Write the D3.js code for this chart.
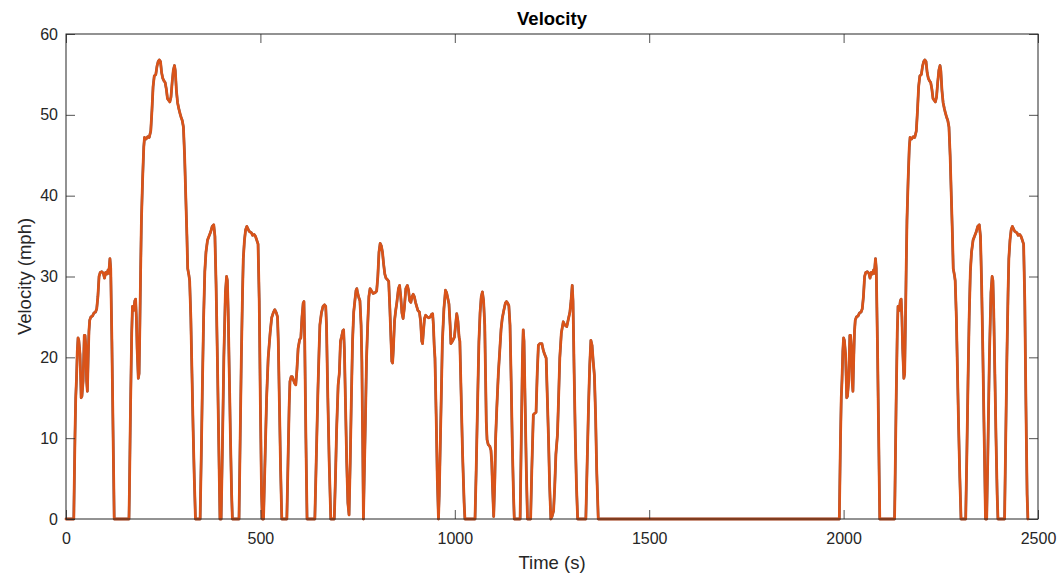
<!DOCTYPE html>
<html>
<head>
<meta charset="utf-8">
<title>Velocity</title>
<script src="https://cdn.jsdelivr.net/npm/d3@7"></script>
<style>
  html, body { margin: 0; padding: 0; background: #ffffff; }
  svg { display: block; font-family: "Liberation Sans", Arial, Helvetica, sans-serif; }
</style>
</head>
<body>
<svg id="chart" width="1064" height="575"></svg>
<script>
// FTP-75 drive schedule: cold-start phase (0-505 s)
const coldStartTime = [0,20,23,25,27,29,31,33,36,38,39,41,44,47,49,51,53,55,57,59,61,64,68,72,76,79,82,85,88,92,96,99,102,105,108,110,113,115,118,121,124,162,163,166,169,171,174,177,179,181,183,186,188,190,192,194,197,200,202,206,210,214,218,221,224,227,231,234,237,240,243,246,249,252,255,258,261,264,267,270,273,276,279,281,284,287,290,293,296,299,302,305,308,311,313,316,318,321,324,327,330,333,345,348,351,354,357,360,364,368,372,376,380,383,386,389,392,396,399,402,406,410,413,415,417,420,423,426,428,445,448,451,454,456,459,462,465,468,471,474,477,480,484,487,490,494,497,500,503,505];
const coldStartSpeed = [0,0,10,15,17.3,20.7,22.4,22.1,20.4,17,15,15.2,17.1,22.7,22.7,21.3,17.1,15.8,19.8,23.2,24.6,25,25.1,25.5,25.6,26,27.5,30,30.5,30.6,30.4,29.8,30.5,30.3,30.8,30.4,32.2,31,22,11,0,0,3,14,23,26.3,25.8,27,27.2,25,21,17.4,18,24,31,37,42,46,47.2,47,47.3,47.2,48,50.5,53.5,54.8,55,56,56.6,56.8,56.6,55.2,54.5,54.2,54,53.2,52,51.8,51.6,52.2,54,55.5,56.1,55.5,53,51.5,50.8,50.2,49.7,49.3,48.5,45,40,35,31,30.2,29.5,25,18,11,5,0,0,8,17,25,30.6,33,34.5,35,35.5,36.2,36.4,35,29,21,12,0,0,8,20,28,30,29.5,26,18,10,3,0,0,10,20,28,32.2,34.5,35.8,36.2,35.9,35.6,35.5,35.4,35.1,35.2,35,34.6,34,27,14,3,0];

// Stabilized phase (505-1369 s)
const stabilizedTime = [508,512,516,520,525,529,533,537,541,544,546,549,552,555,568,571,574,576,579,582,585,588,591,594,597,601,604,607,610,612,614,617,620,640,644,648,651,653,657,661,665,668,670,673,677,681,690,693,696,700,703,706,709,712,714,716,719,722,725,728,731,734,737,740,743,746,748,750,753,756,759,761,763,765,767,770,773,776,779,782,786,790,795,799,802,805,808,811,814,817,820,823,827,830,833,836,838,840,842,845,848,851,855,858,861,864,867,870,874,878,881,884,887,890,893,896,899,902,905,909,912,915,917,919,922,925,929,933,937,940,943,945,947,949,952,955,958,960,963,966,968,972,976,979,982,985,988,990,994,999,1002,1005,1008,1011,1013,1016,1020,1024,1026,1052,1055,1058,1062,1065,1068,1071,1074,1077,1079,1081,1083,1086,1090,1093,1095,1097,1100,1103,1105,1108,1112,1116,1119,1122,1126,1130,1133,1136,1139,1142,1145,1148,1151,1153,1168,1171,1174,1176,1178,1181,1184,1187,1195,1198,1202,1206,1209,1212,1215,1219,1224,1227,1230,1235,1238,1241,1244,1247,1250,1254,1257,1260,1264,1267,1270,1274,1279,1283,1288,1292,1296,1299,1302,1304,1307,1310,1313,1316,1337,1340,1344,1347,1350,1353,1356,1359,1362,1365,1369];
const stabilizedSpeed = [0,7.5,15,19.9,23,24.9,25.5,25.9,25.5,25,22,14,6,0,0,7,14,17,17.6,17.6,17.2,16.8,16.6,18.5,21.1,22.2,22.4,25,26.7,26.9,22,10,0,0,8,16,21,24,25.5,26.3,26.5,26.3,24,16,7,0,0,5,11,16.6,18,22,22.6,23.3,23.4,21,14,7,2,0.5,7,15,22,25.6,27,28.3,28.5,28,27.4,27,24,19.5,10,0,5,12,19.9,24,27.5,28.5,28.2,27.9,28,28.2,30,33,34.1,33.8,33,31.5,30.3,29.8,29.6,29.4,26,22,19.5,19.3,21,24.5,25.8,26.8,28.5,28.9,27.5,25.5,24.8,26,28.5,28.9,28.3,27,26.8,27.5,27.8,27.5,26.8,26.3,25.8,25.6,24.5,22,21.7,23,24.8,25.2,25,24.9,25,25.3,25.4,24,21.5,19.9,13,5,0,3,10,17,21.9,26,28.3,28,27.3,26.6,24,21.7,22,22.5,24,25.4,24.5,22.5,22,16,8,2,0,0,6,13,21.9,25.5,27.5,28.1,27,24,18,12,9.8,9.2,9,8.5,7,4,0.3,5,10,13.7,18,21.1,23.5,24.8,25.8,26.7,26.9,26.7,26.4,24,17,9,3,0,0,10,20,23.4,22,14,6,0,0,6,12.9,13.1,13.2,18,21.5,21.7,21.7,21,20.5,19.9,15,10,4,0,0.3,1,4,8,10.4,15,19.9,23,24.4,24,23.8,24.7,25.6,27,28.9,27,18,10,4,0,0,6,14,19,22.1,21.5,19.5,17.8,13,6,0];

// Hot-start phase after the 10-minute soak (1969-2474 s)
const hotStartTime = [1969,1989,1992,1994,1996,1998,2000,2002,2005,2007,2008,2010,2013,2016,2018,2020,2022,2024,2026,2028,2030,2033,2037,2041,2045,2048,2051,2054,2057,2061,2065,2068,2071,2074,2077,2079,2082,2084,2087,2090,2093,2131,2132,2135,2138,2140,2143,2146,2148,2150,2152,2155,2157,2159,2161,2163,2166,2169,2171,2175,2179,2183,2187,2190,2193,2196,2200,2203,2206,2209,2212,2215,2218,2221,2224,2227,2230,2233,2236,2239,2242,2245,2248,2250,2253,2256,2259,2262,2265,2268,2271,2274,2277,2280,2282,2285,2287,2290,2293,2296,2299,2302,2314,2317,2320,2323,2326,2329,2333,2337,2341,2345,2349,2352,2355,2358,2361,2365,2368,2371,2375,2379,2382,2384,2386,2389,2392,2395,2397,2414,2417,2420,2423,2425,2428,2431,2434,2437,2440,2443,2446,2449,2453,2456,2459,2463,2466,2469,2472,2474];
const hotStartSpeed = [0,0,10,15,17.3,20.7,22.4,22.1,20.4,17,15,15.2,17.1,22.7,22.7,21.3,17.1,15.8,19.8,23.2,24.6,25,25.1,25.5,25.6,26,27.5,30,30.5,30.6,30.4,29.8,30.5,30.3,30.8,30.4,32.2,31,22,11,0,0,3,14,23,26.3,25.8,27,27.2,25,21,17.4,18,24,31,37,42,46,47.2,47,47.3,47.2,48,50.5,53.5,54.8,55,56,56.6,56.8,56.6,55.2,54.5,54.2,54,53.2,52,51.8,51.6,52.2,54,55.5,56.1,55.5,53,51.5,50.8,50.2,49.7,49.3,48.5,45,40,35,31,30.2,29.5,25,18,11,5,0,0,8,17,25,30.6,33,34.5,35,35.5,36.2,36.4,35,29,21,12,0,0,8,20,28,30,29.5,26,18,10,3,0,0,10,20,28,32.2,34.5,35.8,36.2,35.9,35.6,35.5,35.4,35.1,35.2,35,34.6,34,27,14,3,0];

// Axis ticks
const xTicks = [0, 500, 1000, 1500, 2000, 2500];
const yTicks = [0, 10, 20, 30, 40, 50, 60];

const time = coldStartTime.concat(stabilizedTime, hotStartTime);
const speed = coldStartSpeed.concat(stabilizedSpeed, hotStartSpeed);
const series = time.map((t, i) => ({ t: t, v: speed[i] }));

const svg = d3.select("#chart");
const margin = { top: 34, right: 26, bottom: 56, left: 66 };
const W = 1064, H = 575;
const innerW = W - margin.left - margin.right;
const innerH = H - margin.top - margin.bottom;

const x = d3.scaleLinear().domain([0, 2500]).range([0, innerW]);
const y = d3.scaleLinear().domain([0, 60]).range([innerH, 0]);

const axisColor = "#262626";
const g = svg.append("g").attr("transform", `translate(${margin.left},${margin.top})`);

// Data lines (blue commanded trace underneath, orange measured trace on top)
const line = d3.line().x(d => x(d.t)).y(d => y(d.v));
g.append("path")
  .datum(series)
  .attr("fill", "none")
  .attr("stroke", "#0072BD")
  .attr("stroke-width", 2.4)
  .attr("stroke-linejoin", "round")
  .attr("d", line);
g.append("path")
  .datum(series)
  .attr("fill", "none")
  .attr("stroke", "#D95319")
  .attr("stroke-width", 2.8)
  .attr("stroke-linejoin", "round")
  .attr("stroke-linecap", "round")
  .attr("d", line);

// Axes with inward ticks on all four sides
function styleAxis(sel) {
  sel.select(".domain").remove();
  sel.selectAll(".tick line").attr("stroke", axisColor).attr("stroke-width", 0.8);
  sel.selectAll(".tick text").attr("fill", axisColor).attr("font-size", "16px");
}
g.append("g")
  .attr("transform", `translate(0,${innerH})`)
  .call(d3.axisBottom(x).tickValues(xTicks).tickFormat(d3.format("d")).tickSizeInner(-9).tickSizeOuter(0).tickPadding(13.5))
  .call(styleAxis);
g.append("g")
  .call(d3.axisTop(x).tickValues(xTicks).tickFormat("").tickSizeInner(-9).tickSizeOuter(0))
  .call(styleAxis);
g.append("g")
  .call(d3.axisLeft(y).tickValues(yTicks).tickFormat(d3.format("d")).tickSizeInner(-9).tickSizeOuter(0).tickPadding(8))
  .call(styleAxis);
g.append("g")
  .attr("transform", `translate(${innerW},0)`)
  .call(d3.axisRight(y).tickValues(yTicks).tickFormat("").tickSizeInner(-9).tickSizeOuter(0))
  .call(styleAxis);

// Axes box
g.append("rect")
  .attr("x", 0).attr("y", 0)
  .attr("width", innerW).attr("height", innerH)
  .attr("fill", "none")
  .attr("stroke", axisColor)
  .attr("stroke-width", 1);

// Title and axis labels
svg.append("text")
  .attr("x", margin.left + innerW / 2).attr("y", 25)
  .attr("text-anchor", "middle")
  .attr("font-size", "18.5px").attr("font-weight", "bold")
  .attr("fill", "#000")
  .text("Velocity");
svg.append("text")
  .attr("x", margin.left + innerW / 2).attr("y", 569)
  .attr("text-anchor", "middle")
  .attr("font-size", "18.5px")
  .attr("fill", axisColor)
  .text("Time (s)");
svg.append("text")
  .attr("transform", `translate(31,${margin.top + innerH / 2}) rotate(-90)`)
  .attr("text-anchor", "middle")
  .attr("font-size", "18.5px")
  .attr("fill", axisColor)
  .text("Velocity (mph)");
</script>
</body>
</html>
